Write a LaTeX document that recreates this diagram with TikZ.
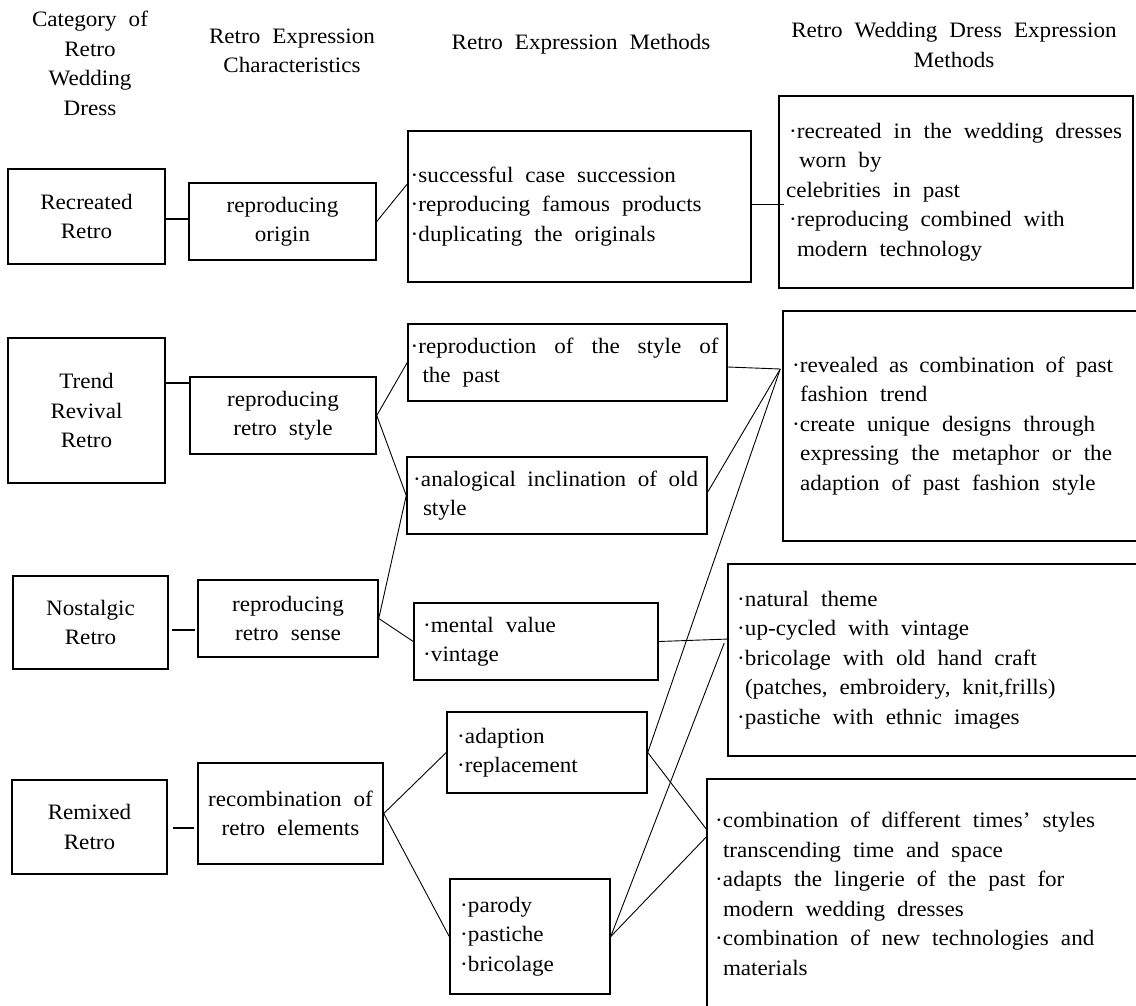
\documentclass[tikz,border=0pt]{standalone}
\usepackage{fontspec}
\setmainfont{Liberation Serif}[FakeStretch=1.05]
\usetikzlibrary{calc}
\newcommand\bul{\makebox[8pt][l]{·}}
\newcommand\ind{\hspace*{8pt}}
\newcommand\wsp{\spaceskip 12pt plus 8pt minus 2pt\relax}
\newcommand\myfont{\fontsize{22}{29.5}\selectfont\wsp}
\begin{document}
\begin{tikzpicture}[x=1pt,y=-1pt,
  every node/.style={font=\myfont},
  cbox/.style={draw, line width=1.5pt, align=center, inner sep=0pt},
  lbox/.style={draw, line width=1.5pt, align=left, inner ysep=0pt, execute at begin node=\wsp},
  hdr/.style={align=center, inner sep=0pt},
  conn/.style={line width=0.9pt},
  sconn/.style={line width=1.3pt}]
\fill[white] (0,0) rectangle (1136,1005);
\useasboundingbox (0,0) rectangle (1136,1005);

% headers
\node[hdr] (H1) at (90,63.5) {Category of\\Retro\\Wedding\\Dress};
\node[hdr] (H2) at (292,51) {Retro Expression\\Characteristics};
\node[hdr] (H3) at (581,44) {Retro Expression Methods};
\node[hdr] (H4) at (954,45) {Retro Wedding Dress Expression\\Methods};

% column A
\node[cbox, minimum width=157pt, minimum height=95pt] (A1) at (86.5,216.5) {Recreated\\Retro};
\node[cbox, minimum width=157pt, minimum height=145pt] (A2) at (86.5,410.5) {Trend\\Revival\\Retro};
\node[cbox, minimum width=155pt, minimum height=93pt] (A3) at (90.5,622.5) {Nostalgic\\Retro};
\node[cbox, minimum width=155pt, minimum height=94pt] (A4) at (89.5,827) {Remixed\\Retro};

% column B
\node[cbox, minimum width=187pt, minimum height=77pt] (B1) at (282.5,221.5) {reproducing\\origin};
\node[cbox, minimum width=186pt, minimum height=77pt] (B2) at (283,415.5) {reproducing\\retro style};
\node[cbox, minimum width=180pt, minimum height=77pt] (B3) at (288,618.5) {reproducing\\retro sense};
\node[cbox, minimum width=185pt, minimum height=101pt] (B4) at (290.5,813.5) {recombination of\\retro elements};

% column C
\node[lbox, minimum width=343pt, minimum height=151pt, inner xsep=2.5pt, text width=338pt] (C1) at (579.5,206.5)
  {\mbox{\bul successful case succession}\\\mbox{\bul reproducing famous products}\\\mbox{\bul duplicating the originals}};
\node[lbox, minimum width=319pt, minimum height=77pt, inner xsep=2.5pt, text width=314pt] (C2a) at (567.5,362.5)
  {\makebox[308pt][s]{\bul reproduction of the style of}\\\hspace*{12pt}the past};
\node[lbox, minimum width=300pt, minimum height=77pt, inner xsep=6pt, text width=288pt] (C2b) at (557,495.5)
  {\makebox[285pt][s]{\bul analogical inclination of old}\\\hspace*{10pt}style};
\node[lbox, minimum width=244pt, minimum height=77pt, inner xsep=9pt, text width=226pt] (C3) at (536,641.5)
  {\bul mental value\\\bul vintage};
\node[lbox, minimum width=200pt, minimum height=81pt, inner xsep=10pt, text width=180pt] (C4a) at (547,752.5)
  {\bul adaption\\\bul replacement};
\node[lbox, minimum width=160pt, minimum height=115pt, inner xsep=10pt, text width=140pt] (C4b) at (530,936.5)
  {\bul parody\\\bul pastiche\\\bul bricolage};

% column D
\node[lbox, minimum width=354pt, minimum height=192pt, inner xsep=10pt, text width=334pt] (D1) at (956,192)
  {\mbox{\bul recreated in the wedding dresses}\\\hspace*{10pt}worn by\\\hspace*{-3pt}celebrities in past\\\mbox{\bul reproducing combined with}\\\ind modern technology};
\node[lbox, minimum width=367pt, minimum height=230pt, inner xsep=9pt, text width=349pt] (D2) at (966.5,426)
  {\makebox[321pt][s]{\bul revealed as combination of past}\\\ind fashion trend\\\mbox{\bul create unique designs through}\\\ind\makebox[312pt][s]{expressing the metaphor or the}\\\ind\mbox{adaption of past fashion style}};
\node[lbox, minimum width=422pt, minimum height=192pt, inner xsep=9pt, text width=404pt] (D3) at (939,660)
  {\bul natural theme\\\bul up-cycled with vintage\\\mbox{\bul bricolage with old hand craft}\\\ind\mbox{(patches, embroidery, knit,frills)}\\\mbox{\bul pastiche with ethnic images}};
\node[lbox, minimum width=443pt, minimum height=230pt, inner xsep=8pt, text width=427pt] (D4) at (928.5,894)
  {\mbox{\bul combination of different times’ styles}\\\ind\mbox{transcending time and space}\\\mbox{\bul adapts the lingerie of the past for}\\\ind\mbox{modern wedding dresses}\\\mbox{\bul combination of new technologies and}\\\ind materials};

% connection points
\coordinate (d2in) at ([xshift=-2pt,yshift=57pt]D2.west);
\coordinate (d3in) at ([xshift=2pt,yshift=21pt]D3.west);
\coordinate (d3in2) at ([xshift=-3pt,yshift=17pt]D3.west);

% connectors A-B
\draw[sconn] ([yshift=-2.5pt]A1.east) -- ([yshift=2.5pt]B1.west);
\draw[sconn] ([yshift=27.5pt]A2.east) -- ([yshift=32.5pt]B2.west);
\draw[sconn, shorten <=3pt, shorten >=2pt] ([yshift=-7.5pt]A3.east) -- ([yshift=-11.5pt]B3.west);
\draw[sconn, shorten <=5pt, shorten >=3pt] ([yshift=-1pt]A4.east) -- ([yshift=-14.5pt]B4.west);

% connectors B-C
\draw[conn] (B1.east) -- ([yshift=22.5pt]C1.west);
\draw[conn] (B2.east) -- (C2a.west);
\draw[conn] (B2.east) -- (C2b.west);
\draw[conn] (B3.east) -- (C2b.west);
\draw[conn] (B3.east) -- (C3.west);
\draw[conn] (B4.east) -- (C4a.west);
\draw[conn] (B4.east) -- (C4b.west);

% connectors C-D
\draw[conn] ([yshift=2.5pt]C1.east) -- ([xshift=6pt,yshift=-12pt]D1.west);
\draw[conn] ([yshift=-4.5pt]C2a.east) -- (d2in);
\draw[conn] ([yshift=3.5pt]C2b.east) -- (d2in);
\draw[conn] (C4a.east) -- (d2in);
\draw[conn] (C3.east) -- (d3in);
\draw[conn] (C4b.east) -- (d3in2);
\draw[conn] (C4a.east) -- ([yshift=65pt]D4.west);
\draw[conn] (C4b.east) -- ([yshift=57pt]D4.west);
\end{tikzpicture}
\end{document}
